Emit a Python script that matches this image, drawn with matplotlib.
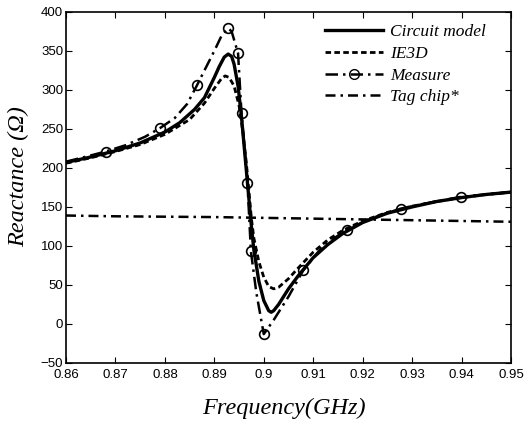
import numpy as np
import matplotlib.pyplot as plt
from matplotlib.lines import Line2D

# Circuit model (solid)
f_circuit = [0.86, 0.865, 0.87, 0.875, 0.88, 0.883, 0.886, 0.888, 0.89, 0.891, 0.892,
             0.8928, 0.8935, 0.894, 0.8948, 0.8955, 0.896, 0.8965, 0.897, 0.8975, 0.898,
             0.899, 0.9, 0.901, 0.9015, 0.902, 0.903, 0.905, 0.907, 0.91, 0.913, 0.916,
             0.92, 0.925, 0.93, 0.935, 0.94, 0.945, 0.95]
x_circuit = [207, 214, 222, 232, 246, 258, 275, 290, 316, 330, 342,
             346, 343, 333, 305, 265, 230, 195, 160, 125, 95,
             55, 30, 17, 15, 17, 25, 45, 62, 85, 102, 116,
             130, 142, 150, 157, 162, 166, 169]

# IE3D (dashed)
f_ie3d = [0.86, 0.865, 0.87, 0.875, 0.88, 0.885, 0.888, 0.89, 0.8915, 0.8922, 0.893,
          0.894, 0.895, 0.8958, 0.8965, 0.897, 0.8975, 0.898, 0.899, 0.9, 0.901, 0.902,
          0.903, 0.905, 0.907, 0.91, 0.913, 0.916, 0.92, 0.925, 0.93, 0.935, 0.94,
          0.945, 0.95]
x_ie3d = [206, 213, 221, 230, 243, 262, 283, 302, 315, 318, 316,
          305, 280, 245, 205, 170, 135, 110, 80, 60, 48, 45,
          47, 58, 72, 92, 108, 120, 132, 143, 151, 157, 162,
          166, 169]

# Measure (dash-dot with circles)
f_meas = [0.86, 0.865, 0.868, 0.872, 0.876, 0.879, 0.882, 0.8845, 0.8865, 0.888, 0.89,
          0.8915, 0.8928, 0.8935, 0.8948, 0.8955, 0.8967, 0.8974, 0.8985, 0.9, 0.902,
          0.905, 0.908, 0.912, 0.9168, 0.922, 0.9278, 0.934, 0.9399, 0.945, 0.95]
x_meas = [208, 216, 221, 229, 240, 251, 264, 282, 306, 325, 350,
          370, 379, 375, 347, 270, 181, 93, 40, -13, 5,
          35, 69, 100, 121, 136, 148, 156, 163, 166, 169]
meas_marks = [2, 5, 8, 12, 14, 15, 16, 17, 19, 22, 24, 26, 28]

# Tag chip (dash-dot)
f_tag = [0.86, 0.87, 0.88, 0.89, 0.9, 0.91, 0.92, 0.93, 0.94, 0.95]
x_tag = [139, 138, 137.5, 137, 136, 135, 134, 133, 132, 131]

fig = plt.figure(figsize=(5.25, 4.26), dpi=100)
ax = fig.add_axes([0.1257, 0.148, 0.8476, 0.824])

ax.plot(f_circuit, x_circuit, color='black', lw=2.4, ls='-')
ax.plot(f_ie3d, x_ie3d, color='black', lw=2.0, ls=(0, (2, 1.2)))
ax.plot(f_meas, x_meas, color='black', lw=1.8, ls=(0, (5, 2, 1, 2)),
        marker='o', markevery=meas_marks, ms=7, mfc='none', mec='black', mew=1.2)
ax.plot(f_tag, x_tag, color='black', lw=1.8, ls=(0, (4, 2, 1, 2)))

ax.set_xlim(0.86, 0.95)
ax.set_ylim(-50, 400)
ax.set_xticks(np.arange(0.86, 0.951, 0.01))
ax.set_xticklabels(['0.86', '0.87', '0.88', '0.89', '0.9', '0.91', '0.92', '0.93', '0.94', '0.95'])
ax.set_yticks(np.arange(-50, 401, 50))
ax.tick_params(direction='in', top=True, right=True, labelsize=9.5, length=4)
ax.tick_params(axis='x', pad=4)
ax.tick_params(axis='y', pad=2)
for lab in ax.get_xticklabels() + ax.get_yticklabels():
    lab.set_family('Liberation Sans')
for s in ax.spines.values():
    s.set_linewidth(1.2)

serif = {'family': 'Liberation Serif', 'style': 'italic'}
fig.text(0.036, 0.585, 'Reactance (Ω)', rotation=90, ha='center', va='center',
         fontsize=17.5, **serif)
fig.text(0.54, 0.042, 'Frequency(GHz)', ha='center', va='center', fontsize=17.5, **serif)

handles = [
    Line2D([], [], color='black', lw=2.4, ls='-'),
    Line2D([], [], color='black', lw=2.0, ls=(0, (2, 1.2))),
    Line2D([], [], color='black', lw=1.8, ls=(0, (5, 2, 1, 2)), marker='o',
           ms=7, mfc='none', mec='black', markevery=[0, 1]),
    Line2D([], [], color='black', lw=1.8, ls=(0, (4, 2, 1, 2))),
]
labels = ['Circuit model', 'IE3D', 'Measure', 'Tag chip*']
ax.legend(handles, labels, loc='upper right', frameon=False, handlelength=3.3,
          prop={'family': 'Liberation Serif', 'style': 'italic', 'size': 12.5},
          labelspacing=0.32, handletextpad=0.45, borderaxespad=0.0,
          bbox_to_anchor=(0.96, 0.985))

fig.savefig('out.png', dpi=100)
